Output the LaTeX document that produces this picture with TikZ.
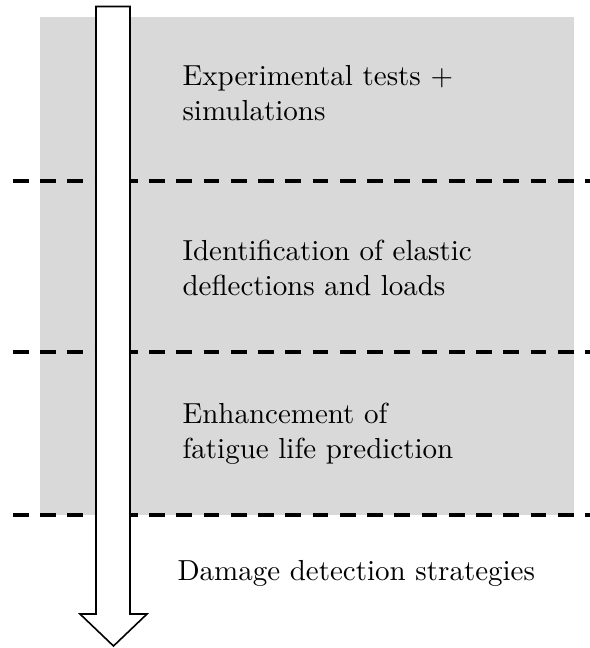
\documentclass[tikz,border=0pt]{standalone}
\begin{document}
\begin{tikzpicture}[x=0.345pt,y=-0.345pt,
  band/.style={fill=black!15,draw=none},
  divider/.style={line width=1.38pt,dash pattern=on 5.4pt off 4pt},
  label/.style={anchor=base west,inner sep=0pt,align=left,font=\normalsize},
  flow/.style={fill=white,draw=black,line width=0.55pt,line join=miter}]
  \useasboundingbox (0,0) rectangle (590,648);
  % shaded panel behind the first three stages
  \fill[band] (40,17) rectangle (574,515);
  % stage separators
  \coordinate (d1l) at (13,181); \coordinate (d1r) at (590,181);
  \coordinate (d2l) at (13,352); \coordinate (d2r) at (590,352);
  \coordinate (d3l) at (13,515); \coordinate (d3r) at (590,515);
  \draw[divider] (d1l) -- (d1r);
  \draw[divider] (d2l) -- (d2r);
  \draw[divider] (d3l) -- (d3r);
  % downward process arrow
  \draw[flow] (96,6.5) -- (130,6.5) -- (130,614) -- (147,614) -- (113.5,646)
    -- (80,614) -- (96,614) -- cycle;
  % stage labels (base anchor sits on the last line of each label)
  \node[label] (s1) at (182,120) {Experimental tests +\\simulations};
  \node[label] (s2) at (182,295) {Identification of elastic\\deflections and loads};
  \node[label] (s3) at (182,458) {Enhancement of\\fatigue life prediction};
  \node[label] (s4) at (177,580) {Damage detection strategies};
\end{tikzpicture}
\end{document}
